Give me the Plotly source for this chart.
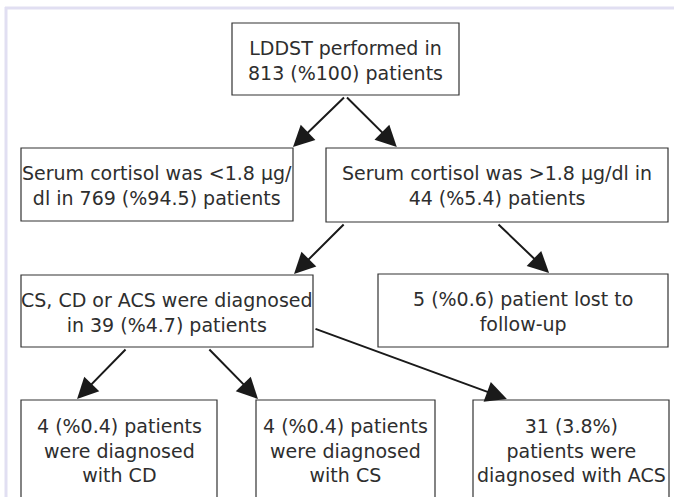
import plotly.graph_objects as go

# ---- data: node texts ----
node_texts = [
    ["LDDST performed in", "813 (%100) patients"],
    ["Serum cortisol was <1.8 μg/", "dl in 769 (%94.5) patients"],
    ["Serum cortisol was >1.8 μg/dl in", "44 (%5.4) patients"],
    ["CS, CD or ACS were diagnosed", "in 39 (%4.7) patients"],
    ["5 (%0.6) patient lost to", "follow-up"],
    ["4 (%0.4) patients", "were diagnosed", "with CD"],
    ["4 (%0.4) patients", "were diagnosed", "with CS"],
    ["31 (3.8%)", "patients were", "diagnosed with ACS"],
]

# ---- layout geometry (pixels) : x0, y0, x1, y1 ----
boxes = [
    (232, 23, 459, 95),
    (21, 148, 293, 221),
    (326, 148, 668, 222),
    (21, 275, 313, 347),
    (378, 274, 668, 347),
    (21, 400, 217, 520),
    (256, 400, 435, 520),
    (473, 400, 669, 520),
]

# edges: (src, side, frac, dst, frac) side "b" bottom or "r" right
edges = [
    (0, "b", 0.50, 1, 1.00),
    (0, "b", 0.50, 2, 0.207),
    (2, "b", 0.056, 3, 0.935),
    (2, "b", 0.50, 4, 0.59),
    (3, "b", 0.363, 5, 0.286),
    (3, "b", 0.64, 6, 0.011),
    (3, "r", 0.74, 7, 0.173),
]

W, H = 674, 497
FONT = "DejaVu Sans"
TXT = "#2e2e2e"

fig = go.Figure()
shapes = []
annotations = []

# frame lines
frame = "#e1dff2"
shapes.append(dict(type="line", x0=5, x1=W, y0=8, y1=8, line=dict(color=frame, width=3), layer="below"))
shapes.append(dict(type="line", x0=6, x1=6, y0=7, y1=H, line=dict(color=frame, width=3), layer="below"))

for (x0, y0, x1, y1), lines in zip(boxes, node_texts):
    shapes.append(dict(type="rect", x0=x0, x1=x1, y0=y0, y1=y1,
                       line=dict(color="#333333", width=1.2), fillcolor="white"))
    cy = y0 + 12.5 + 12.5 * len(lines)
    annotations.append(dict(x=(x0 + x1) / 2, y=cy, xref="x", yref="y",
                            text="<br>".join(lines), showarrow=False,
                            xanchor="center", yanchor="middle", align="center",
                            font=dict(family=FONT, size=19, color=TXT)))

for src, side, f, dst, g in edges:
    sx0, sy0, sx1, sy1 = boxes[src]
    if side == "b":
        tx, ty = sx0 + f * (sx1 - sx0), sy1 + 1
    else:
        tx, ty = sx1 + 1, sy0 + f * (sy1 - sy0)
    dx0, dy0, dx1, dy1 = boxes[dst]
    hx, hy = dx0 + g * (dx1 - dx0), dy0 - 1
    annotations.append(dict(x=hx, y=hy, ax=tx, ay=ty, xref="x", yref="y",
                            axref="x", ayref="y", text="", showarrow=True,
                            arrowhead=2, arrowsize=2.1, arrowwidth=2.0,
                            arrowcolor="#1a1a1a", standoff=0, startstandoff=0))

fig.update_layout(
    width=W, height=H, margin=dict(l=0, r=0, t=0, b=0),
    paper_bgcolor="white", plot_bgcolor="white",
    xaxis=dict(range=[0, W], visible=False, fixedrange=True),
    yaxis=dict(range=[H, 0], visible=False, fixedrange=True),
    shapes=shapes, annotations=annotations, showlegend=False,
)
fig.write_html("out.html", config={"displayModeBar": False},
               post_script="document.body.style.margin='0';")
